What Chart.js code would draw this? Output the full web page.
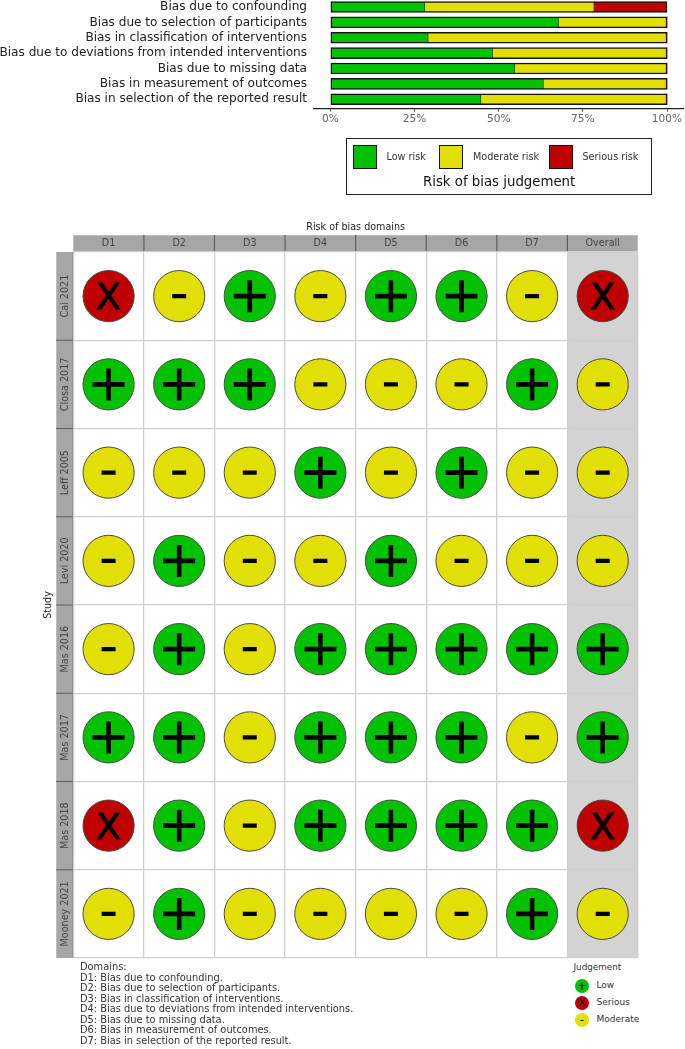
<!DOCTYPE html>
<html>
<head>
<meta charset="utf-8">
<style>
html,body{margin:0;padding:0;background:#fff;width:685px;height:1049px;overflow:hidden;font-family:"DejaVu Sans",sans-serif;}
#wrapTop{position:absolute;left:0;top:-10px;width:685px;height:150px;}
#wrapBottom{position:absolute;left:0;top:210px;width:685px;height:752px;}
.abs{position:absolute;white-space:nowrap;line-height:1;}
#legBox{position:absolute;left:346px;top:138px;width:304px;height:55px;border:1.5px solid #222;box-sizing:content-box;}
.sw{position:absolute;top:145px;width:22px;height:22px;border:1.3px solid #111;}
.lab{font-size:9.65px;color:#333;}
.lab2{font-size:9px;color:#333;}
#caption{position:absolute;left:80px;top:962px;font-size:9.83px;line-height:10.57px;color:#333;white-space:pre;}
.dot{position:absolute;left:575px;width:14px;height:14px;border-radius:50%;text-align:center;color:#111;font-size:12px;line-height:14px;}
</style>
</head>
<body>
<div id="wrapTop"><canvas id="summary"></canvas></div>
<div id="wrapBottom"><canvas id="traffic"></canvas></div>

<div id="legBox"></div>
<div class="sw" style="left:353px;background:#02C100"></div>
<div class="sw" style="left:439px;background:#E2DF07"></div>
<div class="sw" style="left:549px;background:#BF0000"></div>
<div class="abs lab" style="left:386.5px;top:151.5px">Low risk</div>
<div class="abs lab" style="left:473px;top:151.5px">Moderate risk</div>
<div class="abs lab" style="left:582.5px;top:151.5px">Serious risk</div>
<div class="abs" style="left:423px;top:175px;font-size:13.3px;color:#111">Risk of bias judgement</div>

<div id="caption"></div>
<div class="abs lab2" style="left:573.5px;top:963px;font-size:8.8px">Judgement</div>
<div class="dot" style="top:979px;background:#02C100">+</div>
<div class="dot" style="top:996px;background:#BF0000;font-size:11px">X</div>
<div class="dot" style="top:1013px;background:#E2DF07">-</div>
<div class="abs lab2" style="left:596.5px;top:981px">Low</div>
<div class="abs lab2" style="left:596.5px;top:998px">Serious</div>
<div class="abs lab2" style="left:596.5px;top:1015px">Moderate</div>

<script src="https://cdn.jsdelivr.net/npm/chart.js@4/dist/chart.umd.min.js"></script>
<script>
// ---- summary bar data ----
const biasDomains = [
  "Bias due to confounding",
  "Bias due to selection of participants",
  "Bias in classification of interventions",
  "Bias due to deviations from intended interventions",
  "Bias due to missing data",
  "Bias in measurement of outcomes",
  "Bias in selection of the reported result"
];
const lowRisk      = [28.0, 67.7, 29.0, 48.1, 54.7, 63.2, 44.7];
const moderateRisk = [50.3, 32.3, 71.0, 51.9, 45.3, 36.8, 55.3];
const seriousRisk  = [21.7, 0, 0, 0, 0, 0, 0];
const percentTicks = [0, 25, 50, 75, 100];

// ---- traffic light data ----
const domainLabels = ["D1","D2","D3","D4","D5","D6","D7","Overall"];
const studies = ["Cai 2021","Closa 2017","Leff 2005","Levi 2020","Mas 2016","Mas 2017","Mas 2018","Mooney 2021"];
const cai2021    = ["S","M","L","M","L","L","M","S"];
const closa2017  = ["L","L","L","M","M","M","L","M"];
const leff2005   = ["M","M","M","L","M","L","M","M"];
const levi2020   = ["M","L","M","M","L","M","M","M"];
const mas2016    = ["M","L","M","L","L","L","L","L"];
const mas2017    = ["L","L","M","L","L","L","M","L"];
const mas2018    = ["S","L","M","L","L","L","L","S"];
const mooney2021 = ["M","L","M","M","M","M","L","M"];
const judgements = [cai2021, closa2017, leff2005, levi2020, mas2016, mas2017, mas2018, mooney2021];

const domainNotes = [
  "Domains:",
  "D1: Bias due to confounding.",
  "D2: Bias due to selection of participants.",
  "D3: Bias in classification of interventions.",
  "D4: Bias due to deviations from intended interventions.",
  "D5: Bias due to missing data.",
  "D6: Bias in measurement of outcomes.",
  "D7: Bias in selection of the reported result."
];
document.getElementById('caption').textContent = domainNotes.join("\n");

const GREEN = '#02C100', YELLOW = '#E2DF07', RED = '#BF0000';
Chart.defaults.font.family = '"DejaVu Sans", sans-serif';
Chart.defaults.animation = false;

const noPad = s => { s.paddingTop = 0; s.paddingBottom = 0; s.paddingLeft = 0; s.paddingRight = 0; };

// ---- top chart ----
const BW = 1.5;
function barBorder(side){
  return ctx => {
    const i = ctx.dataIndex, k = ctx.datasetIndex;
    if (k === 2 && seriousRisk[i] === 0) return 0;
    return side(k, i);
  };
}
function borderFor(k, i){
  const hasSerious = seriousRisk[i] > 0;
  return {
    top: BW, bottom: BW,
    left: k === 0 ? BW : 0.6,
    right: k === 2 ? BW : (k === 1 && !hasSerious ? BW : 0.6)
  };
}
const toPts = arr => arr.map((v, i) => ({x: v, y: i}));
const barStyle = {
  barThickness: 11,
  borderColor: '#151515',
  borderSkipped: false,
  borderWidth: barBorder(borderFor)
};
new Chart(document.getElementById('summary'), {
  type: 'bar',
  data: {
    datasets: [
      Object.assign({label:'Low risk', data: toPts(lowRisk), backgroundColor: GREEN}, barStyle),
      Object.assign({label:'Moderate risk', data: toPts(moderateRisk), backgroundColor: YELLOW}, barStyle),
      Object.assign({label:'Serious risk', data: toPts(seriousRisk), backgroundColor: RED}, barStyle)
    ]
  },
  options: {
    indexAxis: 'y',
    responsive: true,
    maintainAspectRatio: false,
    layout: {autoPadding: false, padding: {left: 0, right: 1.15, top: 7.8, bottom: 0}},
    plugins: {legend: {display: false}, tooltip: {enabled: false}},
    scales: {
      x: {
        type: 'linear', stacked: true, min: -5, max: 105,
        afterBuildTicks: s => { s.ticks = percentTicks.map(v => ({value: v})); },
        afterFit: s => { s.height = 31.5; noPad(s); },
        border: {display: true, color: '#222', width: 1.3},
        grid: {drawOnChartArea: false, drawTicks: true, tickLength: 3, color: '#444', lineWidth: 1},
        ticks: {callback: v => v + '%', color: '#666', font: {size: 10.6}, padding: 1, maxRotation: 0, autoSkip: false}
      },
      y: {
        type: 'linear', stacked: true, reverse: true, offset: false, min: -0.6, max: 6.6,
        afterBuildTicks: s => { s.ticks = biasDomains.map((_, i) => ({value: i})); },
        afterFit: s => { s.width = 313.5; noPad(s); },
        border: {display: false},
        grid: {display: false, drawTicks: false},
        ticks: {callback: v => biasDomains[v], color: '#222', font: {size: 12.1}, padding: 6.5, autoSkip: false}
      }
    }
  }
});

// ---- bottom chart ----
const cells = [];
judgements.forEach((row, r) => row.forEach((j, c) => cells.push({x: domainLabels[c], y: studies[r], j})));
const ofKind = k => cells.filter(d => d.j === k).map(d => ({x: d.x, y: d.y}));

const circle = (label, kind, color) => ({
  label, data: ofKind(kind), backgroundColor: color, borderColor: '#4a4a4a', borderWidth: 1,
  pointRadius: 25.6, pointHoverRadius: 25.6, pointStyle: 'circle', order: 2
});

const panelPlugin = {
  id: 'panelPlugin',
  beforeDraw(chart) {
    const {ctx, chartArea: a, scales: {x, y}} = chart;
    const w = (a.right - a.left) / domainLabels.length;
    const h = (a.bottom - a.top) / studies.length;
    ctx.save();
    ctx.fillStyle = '#d3d3d3';
    ctx.fillRect(x.getPixelForValue(domainLabels.length - 1) - w / 2, a.top, w, a.bottom - a.top);
    const stripH = 17, stripW = 17.3;
    ctx.fillStyle = '#a6a6a6';
    ctx.fillRect(a.left, a.top - stripH, a.right - a.left, stripH);
    ctx.fillRect(a.left - stripW, a.top, stripW, a.bottom - a.top);
    ctx.lineWidth = 1;
    ctx.strokeStyle = '#bdbdbd';
    ctx.beginPath();
    ctx.moveTo(a.left, a.top - stripH + .5); ctx.lineTo(a.right, a.top - stripH + .5);
    ctx.moveTo(a.left - stripW + .5, a.top); ctx.lineTo(a.left - stripW + .5, a.bottom);
    ctx.moveTo(a.right - .5, a.top - stripH); ctx.lineTo(a.right - .5, a.top);
    ctx.stroke();
    ctx.strokeStyle = '#8a8a8a';
    ctx.beginPath();
    ctx.moveTo(a.left, a.top - .5); ctx.lineTo(a.right, a.top - .5);
    ctx.moveTo(a.left - .5, a.top); ctx.lineTo(a.left - .5, a.bottom);
    ctx.stroke();
    ctx.strokeStyle = '#5e5e5e';
    ctx.lineWidth = 1.2;
    ctx.beginPath();
    for (let i = 1; i < domainLabels.length; i++) {
      const px = a.left + i * w;
      ctx.moveTo(px, a.top - stripH); ctx.lineTo(px, a.top);
    }
    for (let i = 1; i < studies.length; i++) {
      const py = a.top + i * h;
      ctx.moveTo(a.left - stripW, py); ctx.lineTo(a.left, py);
    }
    ctx.stroke();
    ctx.restore();
  },
  afterDatasetsDraw(chart) {
    const {ctx, scales: {x, y}} = chart;
    ctx.save();
    ctx.fillStyle = '#000';
    ctx.strokeStyle = '#000';
    ctx.lineWidth = 1;
    ctx.font = '36px "DejaVu Sans", sans-serif';
    ctx.textAlign = 'center';
    ctx.textBaseline = 'alphabetic';
    ofKind('S').forEach(d => {
      const px = x.getPixelForValue(d.x), py = y.getPixelForValue(d.y) + 13.1;
      ctx.fillText('X', px, py);
      ctx.strokeText('X', px, py);
    });
    ctx.restore();
  }
};

new Chart(document.getElementById('traffic'), {
  type: 'scatter',
  plugins: [panelPlugin],
  data: {
    datasets: [
      circle('Low', 'L', GREEN),
      circle('Serious', 'S', RED),
      circle('Moderate', 'M', YELLOW),
      {label: 'plus', data: ofKind('L'), pointStyle: 'cross', pointRadius: 16, pointHoverRadius: 16,
        borderColor: '#000', borderWidth: 4.6, backgroundColor: '#000', order: 1},
      {label: 'minus', data: ofKind('M'), pointStyle: 'line', pointRadius: 7, pointHoverRadius: 7,
        borderColor: '#000', borderWidth: 4.4, backgroundColor: '#000', order: 1}
    ]
  },
  options: {
    responsive: true,
    maintainAspectRatio: false,
    layout: {autoPadding: false, padding: {left: 0, right: 47, top: 0, bottom: 4}},
    plugins: {legend: {display: false}, tooltip: {enabled: false}},
    scales: {
      x: {
        type: 'category', labels: domainLabels, position: 'top', offset: true,
        afterFit: s => { s.height = 42; noPad(s); },
        border: {display: false},
        grid: {offset: true, color: '#d0d0cb', lineWidth: 1.3, drawTicks: false},
        ticks: {color: '#444', font: {size: 9.6}, padding: 3, maxRotation: 0, autoSkip: false},
        title: {display: true, text: 'Risk of bias domains', color: '#222', font: {size: 9.6}, padding: {top: 12, bottom: 0}}
      },
      y: {
        type: 'category', labels: studies, offset: true,
        afterFit: s => { s.width = 73.3; noPad(s); },
        border: {display: false},
        grid: {offset: true, color: '#d0d0cb', lineWidth: 1.3, drawTicks: false},
        ticks: {color: '#444', font: {size: 9.6}, padding: -25, minRotation: 90, maxRotation: 90, autoSkip: false, crossAlign: 'center'},
        title: {display: true, text: 'Study', color: '#222', font: {size: 9.6}, padding: {top: 43, bottom: 0}}
      }
    }
  }
});
</script>
</body>
</html>
